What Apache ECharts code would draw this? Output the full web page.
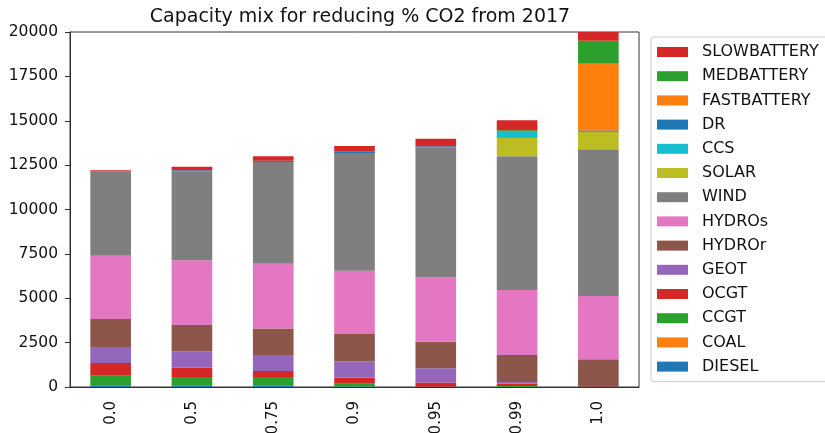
<!DOCTYPE html>
<html>
<head>
<meta charset="utf-8">
<script src="https://cdn.jsdelivr.net/npm/echarts@6/dist/echarts.min.js"></script>
<style>
  html, body { margin: 0; padding: 0; background: #fff; }
  #chart { width: 825px; height: 433px; }
</style>
</head>
<body>
<div id="chart"></div>
<script>
// scenarios (% CO2 reduction)
const categories = ['0.0', '0.5', '0.75', '0.9', '0.95', '0.99', '1.0']

// capacity by technology, bottom of stack first
const DIESEL      = [100, 100, 100, 30, 0, 0, 0]
const COAL        = [0, 0, 0, 0, 0, 0, 0]
const CCGT        = [530, 460, 460, 160, 20, 56, 0]
const OCGT        = [720, 520, 340, 340, 240, 130, 0]
const GEOT        = [900, 940, 900, 900, 790, 95, 0]
const HYDROr      = [1580, 1480, 1500, 1560, 1500, 1520, 1560]
const HYDROs      = [3560, 3640, 3640, 3560, 3640, 3660, 3560]
const WIND        = [4730, 5010, 5740, 6640, 7320, 7544, 8280]
const SOLAR       = [0, 0, 0, 0, 0, 1030, 975]
const CCS         = [0, 0, 0, 0, 0, 340, 0]
const DR          = [40, 60, 60, 60, 50, 0, 80]
const FASTBATTERY = [0, 0, 0, 0, 0, 0, 3750]
const MEDBATTERY  = [0, 0, 0, 0, 0, 90, 1300]
const SLOWBATTERY = [50, 200, 260, 330, 430, 570, 700]

const stackOrder = [
  ['DIESEL', DIESEL, '#1f77b4'],
  ['COAL', COAL, '#ff7f0e'],
  ['CCGT', CCGT, '#2ca02c'],
  ['OCGT', OCGT, '#d62728'],
  ['GEOT', GEOT, '#9467bd'],
  ['HYDROr', HYDROr, '#8c564b'],
  ['HYDROs', HYDROs, '#e377c2'],
  ['WIND', WIND, '#7f7f7f'],
  ['SOLAR', SOLAR, '#bcbd22'],
  ['CCS', CCS, '#17becf'],
  ['DR', DR, '#1f77b4'],
  ['FASTBATTERY', FASTBATTERY, '#ff7f0e'],
  ['MEDBATTERY', MEDBATTERY, '#2ca02c'],
  ['SLOWBATTERY', SLOWBATTERY, '#d62728']
]

const yTicks = [0, 2500, 5000, 7500, 10000, 12500, 15000, 17500, 20000]

const font = 'DejaVu Sans'
const chart = echarts.init(document.getElementById('chart'))

chart.setOption({
  animation: false,
  textStyle: { fontFamily: font },
  title: {
    text: 'Capacity mix for reducing % CO2 from 2017',
    left: 355,
    top: 3,
    textAlign: 'center',
    textStyle: { fontFamily: font, fontSize: 19, fontWeight: 'normal', color: '#111' }
  },
  legend: {
    orient: 'vertical',
    left: 651,
    top: 37,
    padding: [7, 30, 7, 6],
    itemWidth: 31,
    itemHeight: 10,
    itemGap: 8.2,
    borderColor: '#ccc',
    borderWidth: 1,
    borderRadius: 3,
    selectedMode: false,
    icon: 'rect',
    data: stackOrder.map(s => s[0]).reverse(),
    textStyle: { fontFamily: font, fontSize: 16, lineHeight: 15, color: '#111', padding: [0, 0, 0, 9] }
  },
  grid: {
    left: 70,
    right: 186,
    top: 32,
    bottom: 46,
    outerBoundsMode: 'none',
    show: true,
    borderColor: '#333',
    borderWidth: 1
  },
  xAxis: {
    type: 'category',
    data: categories,
    axisLine: { lineStyle: { color: '#333' } },
    axisTick: { alignWithLabel: true, length: 5, lineStyle: { color: '#333' } },
    axisLabel: { rotate: 90, margin: 14, fontSize: 15, color: '#111', fontFamily: font }
  },
  yAxis: {
    type: 'value',
    min: yTicks[0],
    max: yTicks[yTicks.length - 1],
    interval: 2500,
    splitLine: { show: false },
    axisLine: { show: true, lineStyle: { color: '#333' } },
    axisTick: { show: true, length: 5, lineStyle: { color: '#333' } },
    axisLabel: { fontSize: 15.5, color: '#111', margin: 12, fontFamily: font, formatter: v => String(v) }
  },
  series: stackOrder.map(([name, values, color]) => ({
    name,
    type: 'bar',
    stack: 'total',
    barWidth: '50%',
    clip: true,
    itemStyle: { color },
    data: values
  }))
})
</script>
</body>
</html>
